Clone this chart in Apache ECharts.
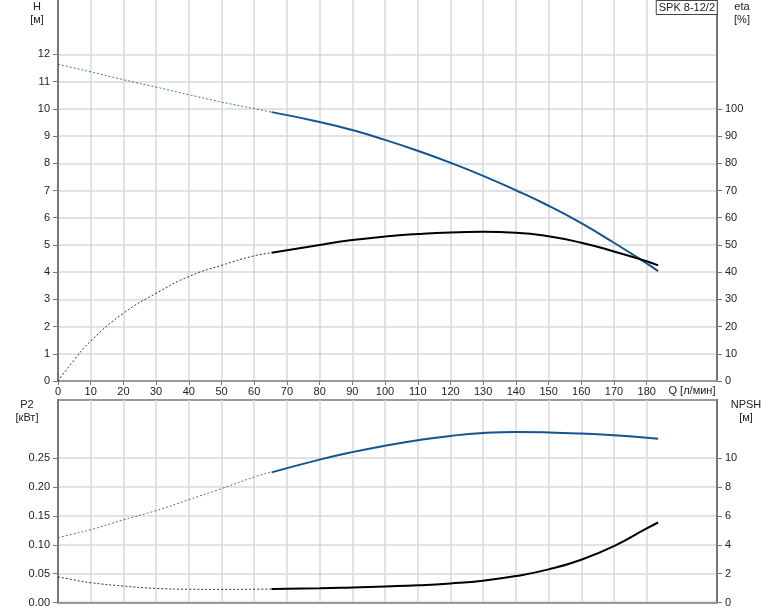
<!DOCTYPE html>
<html>
<head>
<meta charset="utf-8">
<script src="https://cdn.jsdelivr.net/npm/echarts@6/dist/echarts.min.js"></script>
<style>
html,body{margin:0;padding:0;background:#fff;}
#chart{width:774px;height:611px;}
</style>
</head>
<body>
<div id="chart"></div>
<script>
// ---- data ----
const qDash = [0, 5, 10, 20, 30, 40, 50, 60, 65.3];
const qSolid = [65.3, 80, 90, 100, 110, 120, 130, 140, 150, 160, 170, 180, 183.5];

const hDash = [11.64, 11.50, 11.36, 11.07, 10.80, 10.52, 10.25, 10.01, 9.88];
const hSolid = [9.88, 9.52, 9.22, 8.86, 8.46, 8.02, 7.54, 7.01, 6.44, 5.80, 5.08, 4.32, 4.04];

const etaDash = [0, 7.8, 14.7, 24.9, 32.2, 38.4, 42.5, 46.0, 47.1];
const etaSolid = [47.1, 50.0, 51.8, 53.1, 54.0, 54.6, 54.8, 54.5, 53.2, 50.8, 47.6, 44.0, 42.5];

const p2Dash = [0.1124, 0.119, 0.126, 0.143, 0.159, 0.178, 0.197, 0.217, 0.226];
const p2Solid = [0.2250, 0.247, 0.260, 0.271, 0.2805, 0.288, 0.293, 0.2948, 0.294, 0.292, 0.289, 0.285, 0.283];

const npshDash = [1.79, 1.57, 1.38, 1.15, 0.99, 0.93, 0.92, 0.93, 0.94];
const npshSolid = [0.94, 0.99, 1.05, 1.12, 1.20, 1.33, 1.52, 1.84, 2.30, 2.97, 3.91, 5.13, 5.54];

const qTicks = [0, 10, 20, 30, 40, 50, 60, 70, 80, 90, 100, 110, 120, 130, 140, 150, 160, 170, 180];
const hTicks = [0, 1, 2, 3, 4, 5, 6, 7, 8, 9, 10, 11, 12];
const etaTicks = [0, 10, 20, 30, 40, 50, 60, 70, 80, 90, 100];
const p2Ticks = [0, 0.05, 0.10, 0.15, 0.20, 0.25];
const npshTicks = [0, 2, 4, 6, 8, 10];

const titleText = 'SPK 8-12/2';
const qName = 'Q [л/мин]';

// ---- helpers ----
const zip = (xs, ys) => xs.map((x, i) => [x, ys[i]]);
const FONT = "'Liberation Sans', Arial, sans-serif";
const LABEL = {fontSize: 11, color: '#222', fontFamily: FONT};
const BLUE = '#14558f';
const GRID_LINE = {color: '#d6d9db', width: 1.5};
const AXIS_LINE = {color: '#777', width: 2};

function xAxis(gridIndex, showLabels) {
  return {
    type: 'value', gridIndex: gridIndex, min: 0, max: 201.5, interval: 10,
    axisLine: {show: true, onZero: false, lineStyle: {color: '#999', width: 2}},
    axisTick: {show: showLabels, length: 4, lineStyle: {color: '#777'}, customValues: qTicks},
    axisLabel: {show: showLabels, margin: 5, ...LABEL, customValues: qTicks},
    splitLine: {show: true, lineStyle: GRID_LINE}
  };
}
function yAxis(gridIndex, pos, max, interval, ticks, fmt, split) {
  return {
    type: 'value', gridIndex: gridIndex, position: pos, min: 0, max: max, interval: interval,
    axisLine: {show: true, onZero: false, lineStyle: AXIS_LINE},
    axisTick: {show: true, length: 5, lineStyle: {color: '#777'}, customValues: ticks},
    axisLabel: {show: true, margin: 8, ...LABEL, customValues: ticks, formatter: fmt},
    splitLine: {show: split, lineStyle: GRID_LINE}
  };
}
function line(name, xi, yi, data, color, dashed) {
  return {
    name: name, type: 'line', xAxisIndex: xi, yAxisIndex: yi,
    data: data, smooth: 0.5, showSymbol: false, symbol: 'none', silent: true,
    lineStyle: dashed ? {color: color, width: 1, type: [2, 2], opacity: 0.8}
                      : {color: color, width: 2}
  };
}
function label(text, x, y) {
  return {type: 'text', x: x, y: y,
    style: {text: text, align: 'center', verticalAlign: 'top', lineHeight: 13,
            fill: '#222', font: '11px ' + FONT}};
}

const chart = echarts.init(document.getElementById('chart'), null, {renderer: 'canvas'});
chart.setOption({
  animation: false,
  backgroundColor: '#fff',
  title: {
    text: titleText, right: 57, top: 0,
    padding: [2, 2, 2, 3],
    borderColor: '#444', borderWidth: 1, backgroundColor: '#fff',
    textStyle: {fontSize: 11, fontWeight: 'normal', color: '#222', fontFamily: FONT}
  },
  grid: [
    {left: 58, right: 57, top: 0, height: 381},
    {left: 58, right: 57, top: 400, height: 202.7, show: true, borderColor: '#999', borderWidth: 2, backgroundColor: 'transparent'}
  ],
  xAxis: [xAxis(0, true), xAxis(1, false)],
  yAxis: [
    yAxis(0, 'left', 14, 1, hTicks, v => String(v), true),
    yAxis(0, 'right', 140, 10, etaTicks, v => String(v), false),
    yAxis(1, 'left', 0.35, 0.05, p2Ticks, v => v.toFixed(2), true),
    yAxis(1, 'right', 14, 2, npshTicks, v => String(v), false)
  ],
  graphic: [
    label('H\n[м]', 37, 0),
    label('eta\n[%]', 742, 0),
    label('P2\n[кВт]', 27, 398),
    label('NPSH\n[м]', 746, 398),
    {type: 'text', x: 692, y: 385, style: {text: qName, align: 'center', verticalAlign: 'top', fill: '#222', font: '11px ' + FONT}}
  ],
  series: [
    line('H', 0, 0, zip(qDash, hDash), BLUE, true),
    line('H', 0, 0, zip(qSolid, hSolid), BLUE, false),
    line('eta', 0, 1, zip(qDash, etaDash), '#000', true),
    line('eta', 0, 1, zip(qSolid, etaSolid), '#000', false),
    line('P2', 1, 2, zip(qDash, p2Dash), BLUE, true),
    line('P2', 1, 2, zip(qSolid, p2Solid), BLUE, false),
    line('NPSH', 1, 3, zip(qDash, npshDash), '#000', true),
    line('NPSH', 1, 3, zip(qSolid, npshSolid), '#000', false)
  ]
});
</script>
</body>
</html>
